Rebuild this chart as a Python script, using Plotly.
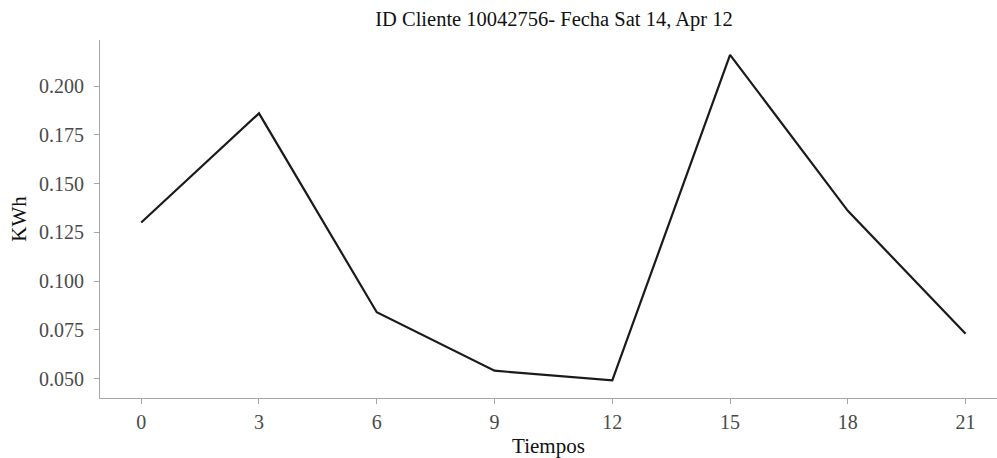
import plotly.graph_objects as go

# Hourly consumption readings (every 3 hours)
tiempos = [0, 3, 6, 9, 12, 15, 18, 21]
kwh = [0.130, 0.186, 0.084, 0.054, 0.049, 0.216, 0.136, 0.073]

x_ticks = [0, 3, 6, 9, 12, 15, 18, 21]
y_ticks = [0.050, 0.075, 0.100, 0.125, 0.150, 0.175, 0.200]

titulo = "ID Cliente 10042756- Fecha Sat 14, Apr 12"

FONT = "Liberation Serif"
AXIS_GRAY = "#a6a6a6"
TICK_TEXT = "#4a4a4a"

fig = go.Figure(
    go.Scatter(
        x=tiempos,
        y=kwh,
        mode="lines",
        line=dict(color="#1a1a1a", width=2.2),
        hoverinfo="x+y",
    )
)

fig.update_layout(
    width=997,
    height=458,
    margin=dict(l=100, r=0, t=40, b=60),
    paper_bgcolor="white",
    plot_bgcolor="white",
    showlegend=False,
    font=dict(family=FONT, size=20, color="#111111"),
    title=dict(
        text=titulo,
        x=554 / 997,
        xanchor="center",
        y=1 - 19 / 458,
        yanchor="middle",
        font=dict(family=FONT, size=20.5, color="#111111"),
    ),
)

fig.update_xaxes(
    range=[-1.05, 21.8],
    tickvals=x_ticks,
    ticktext=[str(v) for v in x_ticks],
    showgrid=False,
    zeroline=False,
    showline=True,
    linecolor=AXIS_GRAY,
    linewidth=1.2,
    ticks="outside",
    ticklen=5,
    tickwidth=1.2,
    tickcolor=AXIS_GRAY,
    ticklabelstandoff=1,
    tickfont=dict(family=FONT, size=20, color=TICK_TEXT),
    title=dict(text="Tiempos", standoff=6, font=dict(family=FONT, size=21, color="#111111")),
)

fig.update_yaxes(
    range=[0.0400, 0.2236],
    tickvals=y_ticks,
    ticktext=[f"{v:.3f}" for v in y_ticks],
    showgrid=False,
    zeroline=False,
    showline=True,
    linecolor=AXIS_GRAY,
    linewidth=1.2,
    ticks="outside",
    ticklen=5,
    tickwidth=1.2,
    tickcolor=AXIS_GRAY,
    ticklabelstandoff=6,
    tickfont=dict(family=FONT, size=20, color=TICK_TEXT),
    title=dict(text="KWh", standoff=6, font=dict(family=FONT, size=21, color="#111111")),
)

fig.write_html("out.html")
